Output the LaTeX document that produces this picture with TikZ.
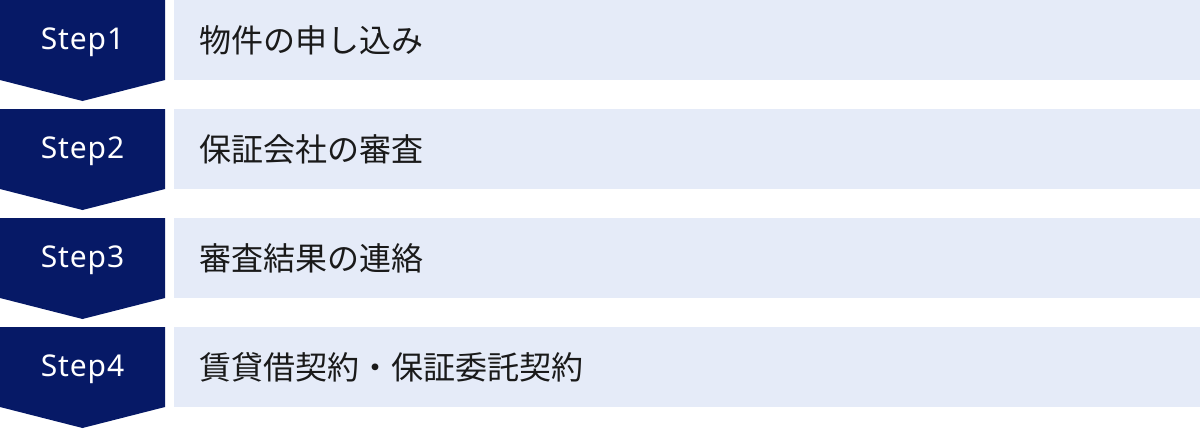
\documentclass[tikz,border=0pt]{standalone}
\usepackage{fontspec}
\setmainfont{Noto Sans}
\newfontfamily\jpfont{Noto Sans CJK JP}
\newfontfamily\stepfont{Noto Sans}[LetterSpace=3]
\usepackage{tikz}
\usetikzlibrary{calc}
\definecolor{navy}{HTML}{061966}
\definecolor{paleblue}{HTML}{E5EBF8}
\definecolor{inkgray}{HTML}{1A1A1A}
\tikzset{
  steplabel/.style={text=white, font=\stepfont\fontsize{30}{30}\selectfont, inner sep=0},
  rowlabel/.style={text=inkgray, font=\jpfont\fontsize{32}{32}\selectfont, inner sep=0, anchor=west}
}

\begin{document}
\begin{tikzpicture}[x=1pt, y=-1pt]
    \useasboundingbox (0,0) rectangle (1200,429);
    \foreach \i/\txt [evaluate=\i as \top using (\i-1)*109] in {1/物件の申し込み,2/保証会社の審査,3/審査結果の連絡,4/賃貸借契約・保証委託契約} {
      \fill[navy] (0,\top) -- ++(165,0) -- ++(0,80) -- ++(-82.5,21) -- ++(-82.5,-21) -- cycle;
      \fill[paleblue] (174,\top) rectangle ++(1026,80);
      \node[steplabel] (step\i) at (82.5,\top+42.5) {Step\i};
      \node[rowlabel] (label\i) at (199,\top+40.5) {\txt};
    }
\end{tikzpicture}
\end{document}
